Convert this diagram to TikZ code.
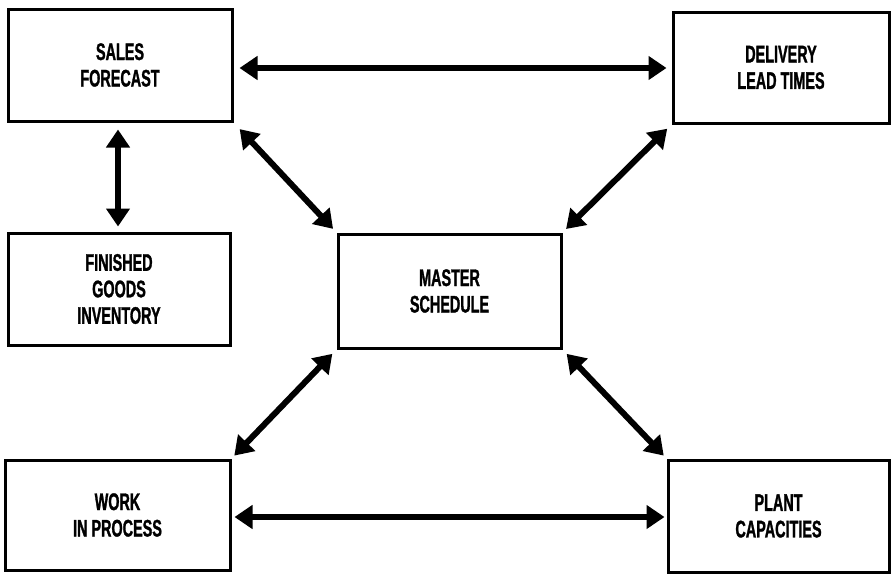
\documentclass[tikz,border=0pt]{standalone}
\usepackage{fontspec}
\setmainfont[FakeStretch=0.6, BoldFeatures={FakeBold=1.2}]{Liberation Sans}
\usetikzlibrary{arrows.meta}
\tikzset{
  box/.style={draw, line width=3pt, rectangle, inner sep=0pt, align=center,
    font=\bfseries\fontsize{24}{26.5}\selectfont},
  arr/.style={line width=6pt, {Triangle[width=23pt,length=18pt]}-{Triangle[width=23pt,length=18pt]}}
}
\begin{document}
\begin{tikzpicture}[x=1pt,y=-1pt]
\useasboundingbox (0,0) rectangle (891,573);
\node[box, minimum width=224pt, minimum height=112pt] (sales) at (120,65) {SALES\\FORECAST};
\node[box, minimum width=216pt, minimum height=111pt] (deliv) at (781,67.5) {DELIVERY\\LEAD TIMES};
\node[box, minimum width=222pt, minimum height=112pt] (fin) at (119,289) {FINISHED\\GOODS\\INVENTORY};
\node[box, minimum width=223pt, minimum height=114pt] (master) at (449.5,291) {MASTER\\SCHEDULE};
\node[box, minimum width=225pt, minimum height=110pt] (work) at (117.5,515) {WORK\\IN PROCESS};
\node[box, minimum width=221pt, minimum height=112pt] (plant) at (778.5,516) {PLANT\\CAPACITIES};

\draw[arr, shorten <=6pt, shorten >=5pt] (sales.east |- 0,68) -- (deliv.west |- 0,68);
\draw[arr, shorten <=7pt, shorten >=5pt] (118,0 |- sales.south) -- (118,0 |- fin.north);
\draw[arr, shorten <=9pt, shorten >=5pt] (sales.south east) -- (master.north west);
\draw[arr, shorten <=6pt, shorten >=5pt] (deliv.south west) -- (master.north east);
\draw[arr, shorten <=6pt, shorten >=4pt] (master.south west) -- (work.north east);
\draw[arr, shorten <=6pt, shorten >=4pt] (master.south east) -- (plant.north west);
\draw[arr, shorten <=3pt, shorten >=2pt] (work.east |- 0,517) -- (plant.west |- 0,517);
\end{tikzpicture}
\end{document}
